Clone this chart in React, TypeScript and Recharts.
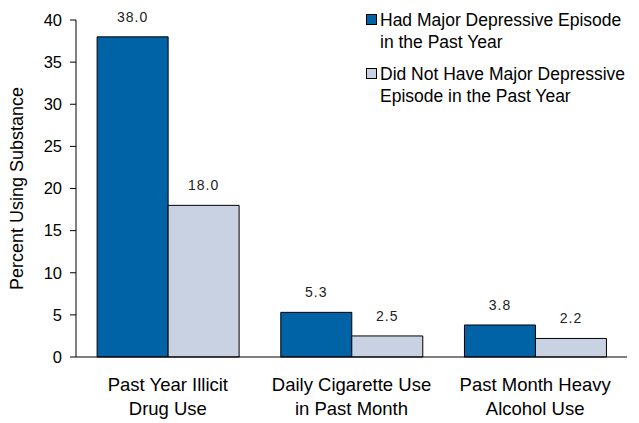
import React from 'react';
import { BarChart, Bar, XAxis, YAxis, LabelList } from 'recharts';

const categories = ['Past Year Illicit\nDrug Use', 'Daily Cigarette Use\nin Past Month', 'Past Month Heavy\nAlcohol Use'];
const hadMde = [38.0, 5.3, 3.8];
const noMde = [18.0, 2.5, 2.2];
const yTicks = [0, 5, 10, 15, 20, 25, 30, 35, 40];

const SERIES = [
  { key: 'had', name: ['Had Major Depressive Episode', 'in the Past Year'], color: '#0063A6' },
  { key: 'not', name: ['Did Not Have Major Depressive', 'Episode in the Past Year'], color: '#C9D2E3' }
];

const data = categories.map((c, i) => ({ category: c, had: hadMde[i], not: noMde[i] }));

const FONT = 'Arial, "Liberation Sans", sans-serif';

const CategoryTick = (props: any) => {
  const { x, y, payload } = props;
  const lines = String(payload.value).split('\n');
  return (
    <g transform={`translate(${x},${y})`}>
      {lines.map((l, i) => (
        <text key={i} x={0} y={26 + i * 24} textAnchor="middle" fontSize={18.5} fill="#000" fontFamily={FONT}>
          {l}
        </text>
      ))}
    </g>
  );
};

const LegendBox = () => (
  <div style={{ position: 'absolute', top: 9, left: 366, fontFamily: FONT, fontSize: 17.5, color: '#000', lineHeight: '22px' }}>
    {SERIES.map((s) => (
      <div key={s.key} style={{ display: 'flex', alignItems: 'flex-start', marginBottom: 10 }}>
        <div
          style={{
            boxSizing: 'border-box',
            width: 11,
            height: 11,
            background: s.color,
            border: '1px solid #000',
            marginTop: 5,
            marginRight: 3
          }}
        />
        <div>
          {s.name.map((n, i) => (
            <div key={i}>{n}</div>
          ))}
        </div>
      </div>
    ))}
  </div>
);

export default function App() {
  return (
    <div style={{ position: 'absolute', left: 0, top: 0, width: 639, height: 423, background: '#fff' }}>
      <BarChart
        width={639}
        height={423}
        data={data}
        margin={{ top: 20, right: 12, left: 0, bottom: 0 }}
        barCategoryGap="11.5%"
        barGap={0}
      >
        <XAxis
          dataKey="category"
          height={66}
          tick={<CategoryTick />}
          tickLine={false}
          axisLine={{ stroke: '#000' }}
          interval={0}
        />
        <YAxis
          width={76}
          domain={[0, 40]}
          ticks={yTicks}
          interval={0}
          tickSize={6}
          tickMargin={8}
          axisLine={{ stroke: '#000' }}
          tickLine={{ stroke: '#000' }}
          tick={{ fontSize: 16.5, fill: '#000', fontFamily: FONT }}
          label={{
            value: 'Percent Using Substance',
            angle: -90,
            position: 'insideLeft',
            offset: 17,
            style: { textAnchor: 'middle', fontSize: 18, fill: '#000', fontFamily: FONT }
          }}
        />
        {SERIES.map((s) => (
          <Bar key={s.key} dataKey={s.key} fill={s.color} stroke="#000" strokeWidth={1} isAnimationActive={false}>
            <LabelList
              dataKey={s.key}
              position="top"
              offset={15}
              formatter={(v: any) => Number(v).toFixed(1)}
              style={{ fontSize: 14, fill: '#222', fontFamily: FONT, letterSpacing: 1 }}
            />
          </Bar>
        ))}
      </BarChart>
      <LegendBox />
    </div>
  );
}
